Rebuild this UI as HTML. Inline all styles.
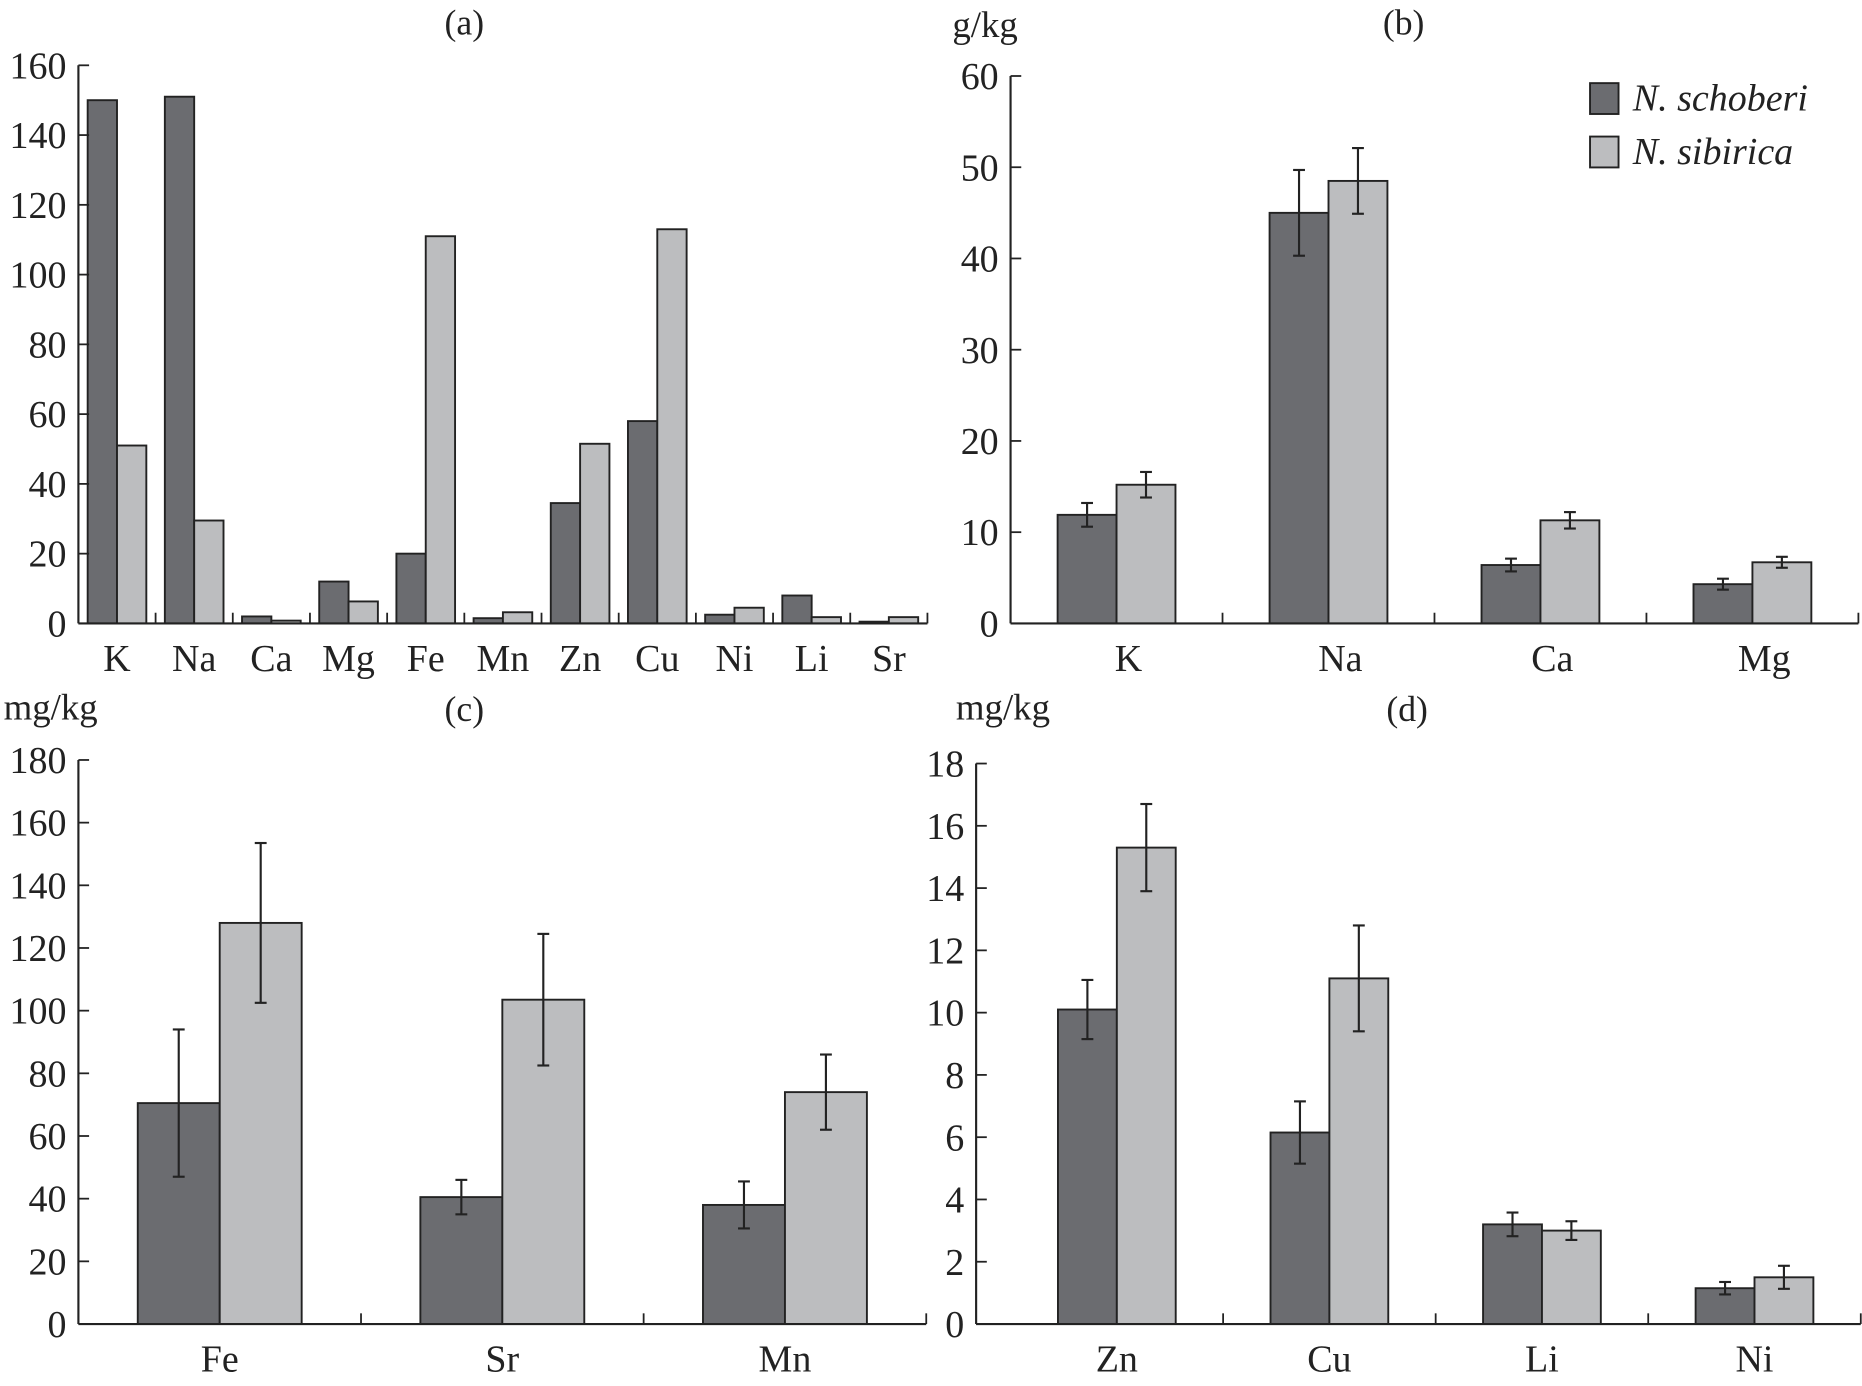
<!DOCTYPE html>
<html><head><meta charset="utf-8"><style>
html,body{margin:0;padding:0;background:#fff;}
svg{display:block;}
text{font-family:"Liberation Serif",serif;fill:#222;}
</style></head><body>
<svg id="fig" width="1862" height="1386" viewBox="0 0 1568 1167.2" xmlns="http://www.w3.org/2000/svg"></svg>
<script>
// Panel (a)
const aCats = ["K","Na","Ca","Mg","Fe","Mn","Zn","Cu","Ni","Li","Sr"];
const aSch = [150,151,2,12,20,1.5,34.5,58,2.5,8,0.5];
const aSib = [51,29.5,0.8,6.3,111,3.2,51.5,113,4.5,1.8,1.8];
const aTicks = [0,20,40,60,80,100,120,140,160];
// Panel (b)
const bCats = ["K","Na","Ca","Mg"];
const bSch = [11.9,45,6.4,4.3];
const bSchErr = [1.3,4.7,0.7,0.6];
const bSib = [15.2,48.5,11.3,6.7];
const bSibErr = [1.4,3.6,0.9,0.6];
const bTicks = [0,10,20,30,40,50,60];
// Panel (c)
const cCats = ["Fe","Sr","Mn"];
const cSch = [70.5,40.5,38];
const cSchErr = [23.5,5.5,7.5];
const cSib = [128,103.5,74];
const cSibErr = [25.5,21,12];
const cTicks = [0,20,40,60,80,100,120,140,160,180];
// Panel (d)
const dCats = ["Zn","Cu","Li","Ni"];
const dSch = [10.1,6.15,3.2,1.15];
const dSchErr = [0.95,1.0,0.38,0.2];
const dSib = [15.3,11.1,3.0,1.5];
const dSibErr = [1.4,1.7,0.3,0.37];
const dTicks = [0,2,4,6,8,10,12,14,16,18];

const NS="http://www.w3.org/2000/svg";
const svg=document.getElementById('fig');
function mk(tag,attrs,parent){const e=document.createElementNS(NS,tag);for(const k in attrs)e.setAttribute(k,attrs[k]);(parent||svg).appendChild(e);return e;}
function txt(s,x,y,size,anchor,parent,italic){const t=mk('text',{x:x,y:y,'font-size':size,'text-anchor':anchor||'middle'},parent);if(italic)t.setAttribute('font-style','italic');t.textContent=s;return t;}

function panel(id,cfg){
  const g=mk('g',{});
  
  
  const {ax,x0,x1,y0,yTop,max,ticks,cats,sch,sib,schErr,sibErr,frac,lblOff}=cfg;
  const ys=v=>y0-(v/max)*(y0-yTop);
  const cw=(x1-x0)/cats.length;
  const bw=cw*frac;
  cats.forEach((c,i)=>{
    const cx=x0+cw*i+cw/2;
    const b1=mk('rect',{x:cx-bw,y:ys(sch[i]),width:bw,height:y0-ys(sch[i]),fill:'#6b6c70',stroke:'#222','stroke-width':1.6},g);
    
    
    const b2=mk('rect',{x:cx,y:ys(sib[i]),width:bw,height:y0-ys(sib[i]),fill:'#bcbdbf',stroke:'#222','stroke-width':1.6},g);
    
    
    if(schErr){
      [[cx-bw/2,sch[i],schErr[i]],[cx+bw/2,sib[i],sibErr[i]]].forEach(([ex,v,e])=>{
        const eg=mk('g',{stroke:'#222','stroke-width':1.8},g);
        
        
        mk('line',{x1:ex,x2:ex,y1:ys(v+e),y2:ys(v-e)},eg);
        mk('line',{x1:ex-5,x2:ex+5,y1:ys(v+e),y2:ys(v+e)},eg);
        mk('line',{x1:ex-5,x2:ex+5,y1:ys(v-e),y2:ys(v-e)},eg);
      });
    }
    const l=txt(c,cx+(lblOff||0),y0+40,32,'middle',g);
    
    
    if(i>0){mk('line',{x1:x0+cw*i,x2:x0+cw*i,y1:y0,y2:y0-9,stroke:'#222','stroke-width':1.5},g);}
  });
  mk('line',{x1:x1,x2:x1,y1:y0,y2:y0-9,stroke:'#222','stroke-width':1.5},g);
  const ya=mk('line',{x1:ax,x2:ax,y1:yTop,y2:y0,stroke:'#222','stroke-width':1.8},g);
  
  
  const xa=mk('line',{x1:ax,x2:x1,y1:y0,y2:y0,stroke:'#222','stroke-width':1.8},g);
  
  
  ticks.forEach(t=>{
    mk('line',{x1:ax,x2:ax+9,y1:ys(t),y2:ys(t),stroke:'#222','stroke-width':1.5},g);
    const l=txt(String(t),ax-10,ys(t)+11,32,'end',g);
    
    
  });
  return g;
}
panel('a',{ax:66,x0:66,x1:781,y0:525,yTop:55,max:160,ticks:aTicks,cats:aCats,sch:aSch,sib:aSib,frac:0.38});
panel('b',{ax:851,x0:851,x1:1565,y0:525,yTop:64,max:60,ticks:bTicks,cats:bCats,sch:bSch,sib:bSib,schErr:bSchErr,sibErr:bSibErr,frac:0.278,lblOff:10});
panel('c',{ax:66,x0:66,x1:780,y0:1115,yTop:640,max:180,ticks:cTicks,cats:cCats,sch:cSch,sib:cSib,schErr:cSchErr,sibErr:cSibErr,frac:0.29});
panel('d',{ax:822,x0:851,x1:1567,y0:1115,yTop:643,max:18,ticks:dTicks,cats:dCats,sch:dSch,sib:dSib,schErr:dSchErr,sibErr:dSibErr,frac:0.277});

[["(a)",391,29,'title-a'],["(b)",1182,29,'title-b'],["(c)",391,607,'title-c'],["(d)",1185,607,'title-d']].forEach(([s,x,y,n])=>{
  const t=txt(s,x,y,30,'middle');
  
  
});
[["g/kg",802,31,'unit-b'],["mg/kg",3,606,'unit-c'],["mg/kg",805,606,'unit-d']].forEach(([s,x,y,n])=>{
  const t=txt(s,x,y,31,'start');
  
  
});
const lg=mk('g',{});


const le1=mk('g',{},lg);


mk('rect',{x:1339,y:70,width:24,height:26,fill:'#6b6c70',stroke:'#222','stroke-width':1.6},le1);
txt('N. schoberi',1375,93,32,'start',le1,true);
const le2=mk('g',{},lg);


mk('rect',{x:1339,y:115,width:24,height:26,fill:'#bcbdbf',stroke:'#222','stroke-width':1.6},le2);
txt('N. sibirica',1375,138,32,'start',le2,true);
</script>
</body></html>
